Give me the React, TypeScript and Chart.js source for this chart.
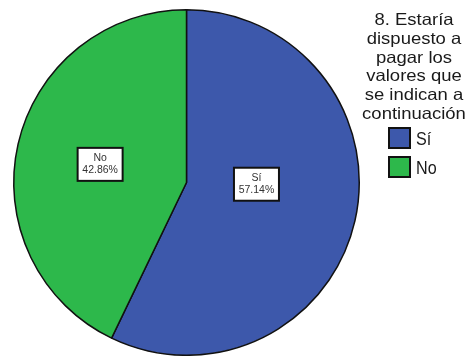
import React, { useEffect, useRef } from "react";
import { Chart, registerables } from "chart.js";

Chart.register(...registerables);

const categories = ["Sí", "No"];
const percentages = [57.14, 42.86];
const sliceColors = ["#3D58AB", "#2DB84B"];
const legendTitleLines = ["8. Estaría", "dispuesto a", "pagar los", "valores que", "se indican a", "continuación"];
// label box position relative to pie centre, in units of the radius
const labelOffsets = [
  [0.405, 0.01],
  [-0.5, -0.105],
];

const FONT = "'Liberation Sans', Arial, sans-serif";

const overlayPlugin = {
  id: "overlay",
  afterDatasetsDraw(chart: any) {
    const ctx = chart.ctx as CanvasRenderingContext2D;
    const meta = chart.getDatasetMeta(0);
    const labels = chart.data.labels as string[];
    const data = chart.data.datasets[0].data as number[];
    const total = data.reduce((a, b) => a + b, 0);
    // data labels
    meta.data.forEach((arc: any, i: number) => {
      const r = arc.outerRadius;
      const cx = arc.x + labelOffsets[i][0] * r;
      const cy = arc.y + labelOffsets[i][1] * r;
      const w = 45;
      const h = 33;
      ctx.save();
      ctx.fillStyle = "#ffffff";
      ctx.fillRect(cx - w / 2, cy - h / 2, w, h);
      ctx.strokeStyle = "#111111";
      ctx.lineWidth = 2;
      ctx.strokeRect(cx - w / 2, cy - h / 2, w, h);
      ctx.fillStyle = "#333333";
      ctx.font = `10px ${FONT}`;
      ctx.textAlign = "center";
      ctx.textBaseline = "middle";
      ctx.translate(cx, cy);
      ctx.scale(1.05, 1);
      ctx.fillText(labels[i], 0, -6);
      ctx.fillText(((data[i] / total) * 100).toFixed(2) + "%", 0, 6);
      ctx.restore();
    });
    // legend title
    ctx.save();
    ctx.fillStyle = "#1a1a1a";
    ctx.font = `16.5px ${FONT}`;
    ctx.textAlign = "center";
    ctx.textBaseline = "alphabetic";
    const tx = 414;
    legendTitleLines.forEach((line, k) => {
      ctx.save();
      ctx.translate(tx, 25 + k * 18.8);
      ctx.scale(1.12, 1);
      ctx.fillText(line, 0, 0);
      ctx.restore();
    });
    // legend items
    ctx.font = `19px ${FONT}`;
    labels.forEach((lab, i) => {
      const by = 128 + i * 29;
      ctx.fillStyle = sliceColors[i];
      ctx.fillRect(389, by, 21, 20);
      ctx.strokeStyle = "#111111";
      ctx.lineWidth = 2;
      ctx.strokeRect(389, by, 21, 20);
      ctx.save();
      ctx.fillStyle = "#1a1a1a";
      ctx.textAlign = "left";
      ctx.translate(416, 145 + i * 29);
      ctx.scale(0.85, 1);
      ctx.fillText(lab, 0, 0);
      ctx.restore();
    });
    ctx.restore();
  },
};

export default function App() {
  const ref = useRef<HTMLCanvasElement>(null);
  useEffect(() => {
    if (!ref.current) return;
    const chart = new Chart(ref.current, {
      type: "pie",
      data: {
        labels: categories,
        datasets: [
          {
            data: percentages,
            backgroundColor: sliceColors,
            borderColor: "#111111",
            borderWidth: 1.5,
          },
        ],
      },
      options: {
        responsive: false,
        animation: false,
        layout: { padding: { left: 13, top: 9, right: 114, bottom: 0 } },
        plugins: {
          legend: { display: false },
          tooltip: { enabled: false },
        },
      },
      plugins: [overlayPlugin],
    });
    return () => chart.destroy();
  }, []);
  return (
    <div style={{ position: "fixed", left: 0, top: 0, width: 474, height: 356, background: "#fff" }}>
      <canvas ref={ref} width={474} height={356} />
    </div>
  );
}
